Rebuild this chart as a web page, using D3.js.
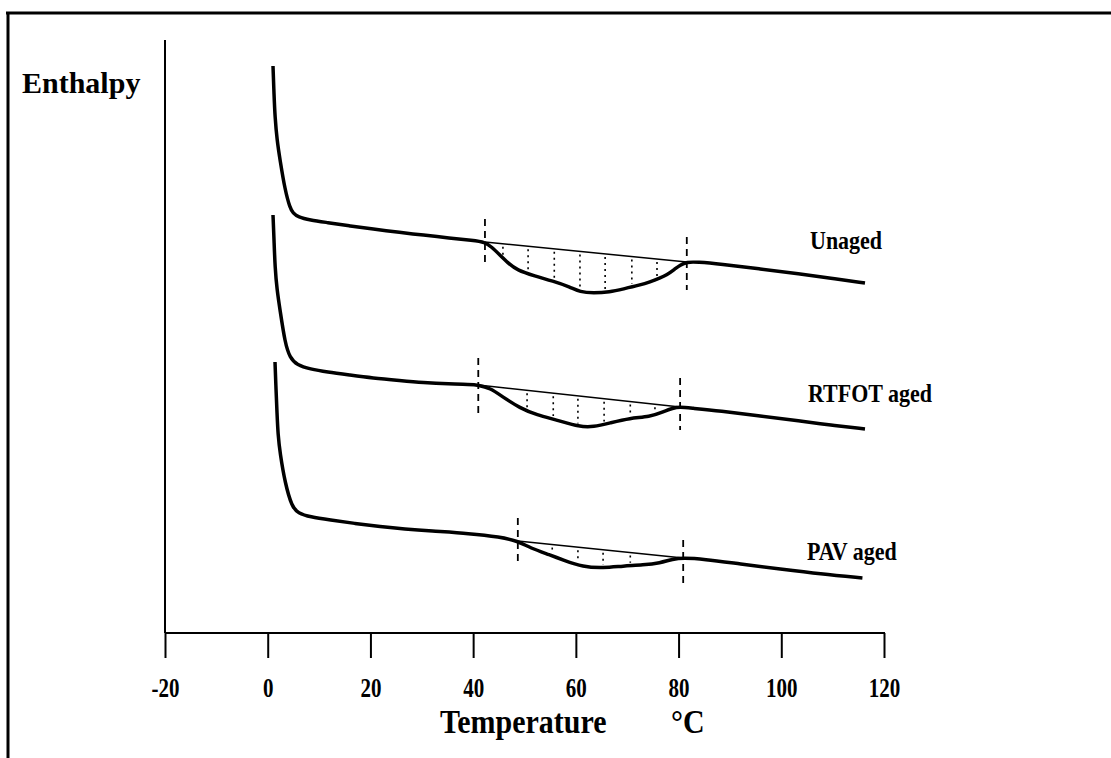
<!DOCTYPE html>
<html>
<head>
<meta charset="utf-8">
<script src="https://cdn.jsdelivr.net/npm/d3@7"></script>
<style>
  html, body { margin: 0; padding: 0; background: #fff; }
  svg { display: block; }
  text { font-family: "Liberation Serif", "Times New Roman", serif; font-weight: bold; fill: #000; }
</style>
</head>
<body>
<svg id="chart" width="1111" height="758"></svg>
<script>
// ---------------- DATA (temperature °C, enthalpy in arbitrary units) ----------------
const xTicks = [-20, 0, 20, 40, 60, 80, 100, 120];
const seriesNames = ["Unaged", "RTFOT aged", "PAV aged"];

const unagedT = [1.03,1.23,1.42,1.81,2.40,3.37,4.34,4.93,5.90,8.24,11.55,15.98,20.4,25.8,30.2,35.4,39.9,42.3,43.6,45.2,46.8,48.5,52.0,55.5,58.9,60.8,63.4,66.6,69.2,72.5,74.4,76.4,77.7,79.3,80.3,81.6,83.6,88.1,95.9,103.6,109.5,116.3];
const unagedH = [567,538,516,493,473,443,425,420,416,413,410.5,407,404,400.5,398,395,392.5,391,386,378,370,363,357,352,346,341,340,341,344,348,351,355,358,364,368,371,371,369,364,359,355,350];

const rtfotT = [1.03,1.23,1.42,1.81,2.40,3.37,4.34,5.71,8.24,11.55,15.98,20.4,25.8,30.2,35.4,39.3,41.0,43.3,45.8,49.1,52.4,56.3,60.8,63.4,66.6,70.5,74.4,76.9,78.9,80.3,82.2,88.1,95.9,103.6,109.5,116.3];
const rtfotH = [418,393,366,343,323,290,275,268,264,261,258,255,252.5,250.5,249,248.5,248,245,236,225,218,213,206,206,210,215,216,221,225,226,225,222,217,212,208,204];

const pavT = [1.42,1.62,1.81,2.01,2.40,3.37,4.73,5.90,8.24,12.1,17.0,21.9,26.7,31.6,39.4,45.2,48.7,51.1,55.0,57.5,61.4,65.3,69.2,73.1,76.4,78.9,80.9,84.8,92.0,99.8,107.6,115.8];
const pavH = [271,243,220,198,180,150,126,120,116,113,109.5,106.5,104,102,99.5,96,92,85,78,73,66,65,67,68,70,74,75,74,69,64,59,55];

// baseline (onset -> end) for each trace: [T1, H1, T2, H2]
const unagedBase = [42.3, 391, 81.6, 371];
const rtfotBase  = [41.0, 248, 80.3, 226];
const pavBase    = [48.7, 92, 80.9, 75];

// dashed markers: [T, Htop, Hbottom]
const unagedDash = [[42.3, 414, 367], [81.6, 396, 343]];
const rtfotDash  = [[41.0, 275, 218], [80.3, 255, 203]];
const pavDash    = [[48.7, 115, 70], [80.9, 93, 50]];

// dotted hatch temperatures
const unagedDots = [45.8, 50.7, 55.8, 60.8, 65.7, 70.9, 75.8];
const rtfotDots  = [50.5, 55.6, 60.4, 65.5, 70.6, 75.4];
const pavDots    = [55.4, 60.4, 65.3, 70.6];

// ---------------- DRAW ----------------
const svg = d3.select("#chart");
const x = d3.scaleLinear().domain([-20, 120]).range([165, 884]);
const y = d3.scaleLinear().domain([0, 593]).range([633, 40]);

// outer frame (top + left edges)
svg.append("line").attr("x1", 6).attr("x2", 1111).attr("y1", 13).attr("y2", 13)
  .attr("stroke", "#000").attr("stroke-width", 3);
svg.append("line").attr("x1", 8).attr("x2", 8).attr("y1", 12).attr("y2", 758)
  .attr("stroke", "#000").attr("stroke-width", 3);

// y axis (no ticks)
svg.append("line").attr("x1", x(-20)).attr("x2", x(-20)).attr("y1", y(593)).attr("y2", y(0))
  .attr("stroke", "#000").attr("stroke-width", 2);

// x axis
const xAxis = d3.axisBottom(x).tickValues(xTicks).tickSize(25).tickPadding(0)
  .tickFormat(d => String(d));
const gx = svg.append("g").attr("transform", `translate(0,${y(0)})`).call(xAxis);
gx.select(".domain").attr("stroke", "#000").attr("stroke-width", 2)
  .attr("d", `M${x(-20)},0H${x(120) + 1}`);
gx.selectAll(".tick line").attr("stroke", "#000").attr("stroke-width", 2);
gx.selectAll(".tick text")
  .attr("y", 0).attr("dy", "0.71em")
  .attr("transform", "translate(0,45) scale(1,1.25)")
  .style("font-family", '"Liberation Serif", serif')
  .style("font-weight", "bold").style("font-size", "21px").attr("fill", "#000");

// axis titles
function stretchedText(tx, ty, size, sy, str, anchor) {
  svg.append("text").attr("transform", `translate(${tx},${ty}) scale(1,${sy})`)
    .attr("text-anchor", anchor || "start").style("font-size", size + "px").text(str);
}
stretchedText(22, 93, 30, 1.0, "Enthalpy");
stretchedText(440, 733, 30, 1.12, "Temperature");
stretchedText(671, 733, 30, 1.12, "°C");

const lineGen = d3.line().x(d => x(d[0])).y(d => y(d[1])).curve(d3.curveBasis);

const traces = [
  { T: unagedT, H: unagedH, base: unagedBase, dash: unagedDash, dots: unagedDots, label: seriesNames[0], lx: 810, ly: 249 },
  { T: rtfotT,  H: rtfotH,  base: rtfotBase,  dash: rtfotDash,  dots: rtfotDots,  label: seriesNames[1], lx: 808, ly: 402 },
  { T: pavT,    H: pavH,    base: pavBase,    dash: pavDash,    dots: pavDots,    label: seriesNames[2], lx: 807, ly: 560 }
];

function interp(Ts, Hs, t) {
  for (let i = 0; i < Ts.length - 1; i++) {
    if (t >= Ts[i] && t <= Ts[i + 1]) {
      const f = (t - Ts[i]) / (Ts[i + 1] - Ts[i]);
      return Hs[i] + f * (Hs[i + 1] - Hs[i]);
    }
  }
  return Hs[Hs.length - 1];
}

traces.forEach(tr => {
  const pts = tr.T.map((t, i) => [t, tr.H[i]]);
  const [bt1, bh1, bt2, bh2] = tr.base;
  const baseAt = t => bh1 + (t - bt1) / (bt2 - bt1) * (bh2 - bh1);

  // dotted hatch lines between baseline and curve
  tr.dots.forEach(t => {
    const top = y(baseAt(t)) + 3;
    const bot = y(interp(tr.T, tr.H, t)) - 3;
    if (bot > top) {
      svg.append("line").attr("x1", x(t)).attr("x2", x(t)).attr("y1", top).attr("y2", bot)
        .attr("stroke", "#000").attr("stroke-width", 1.6).attr("stroke-dasharray", "2,4");
    }
  });

  // baseline
  svg.append("line").attr("x1", x(bt1)).attr("y1", y(bh1)).attr("x2", x(bt2)).attr("y2", y(bh2))
    .attr("stroke", "#000").attr("stroke-width", 1.5);

  // dashed markers
  tr.dash.forEach(d => {
    svg.append("line").attr("x1", x(d[0])).attr("x2", x(d[0])).attr("y1", y(d[1])).attr("y2", y(d[2]))
      .attr("stroke", "#000").attr("stroke-width", 1.8).attr("stroke-dasharray", "7,5");
  });

  // curve
  svg.append("path").datum(pts).attr("d", lineGen)
    .attr("fill", "none").attr("stroke", "#000").attr("stroke-width", 3.5)
    .attr("stroke-linejoin", "round").attr("stroke-linecap", "butt");

  stretchedText(tr.lx, tr.ly, 22, 1.12, tr.label);
});
</script>
</body>
</html>
